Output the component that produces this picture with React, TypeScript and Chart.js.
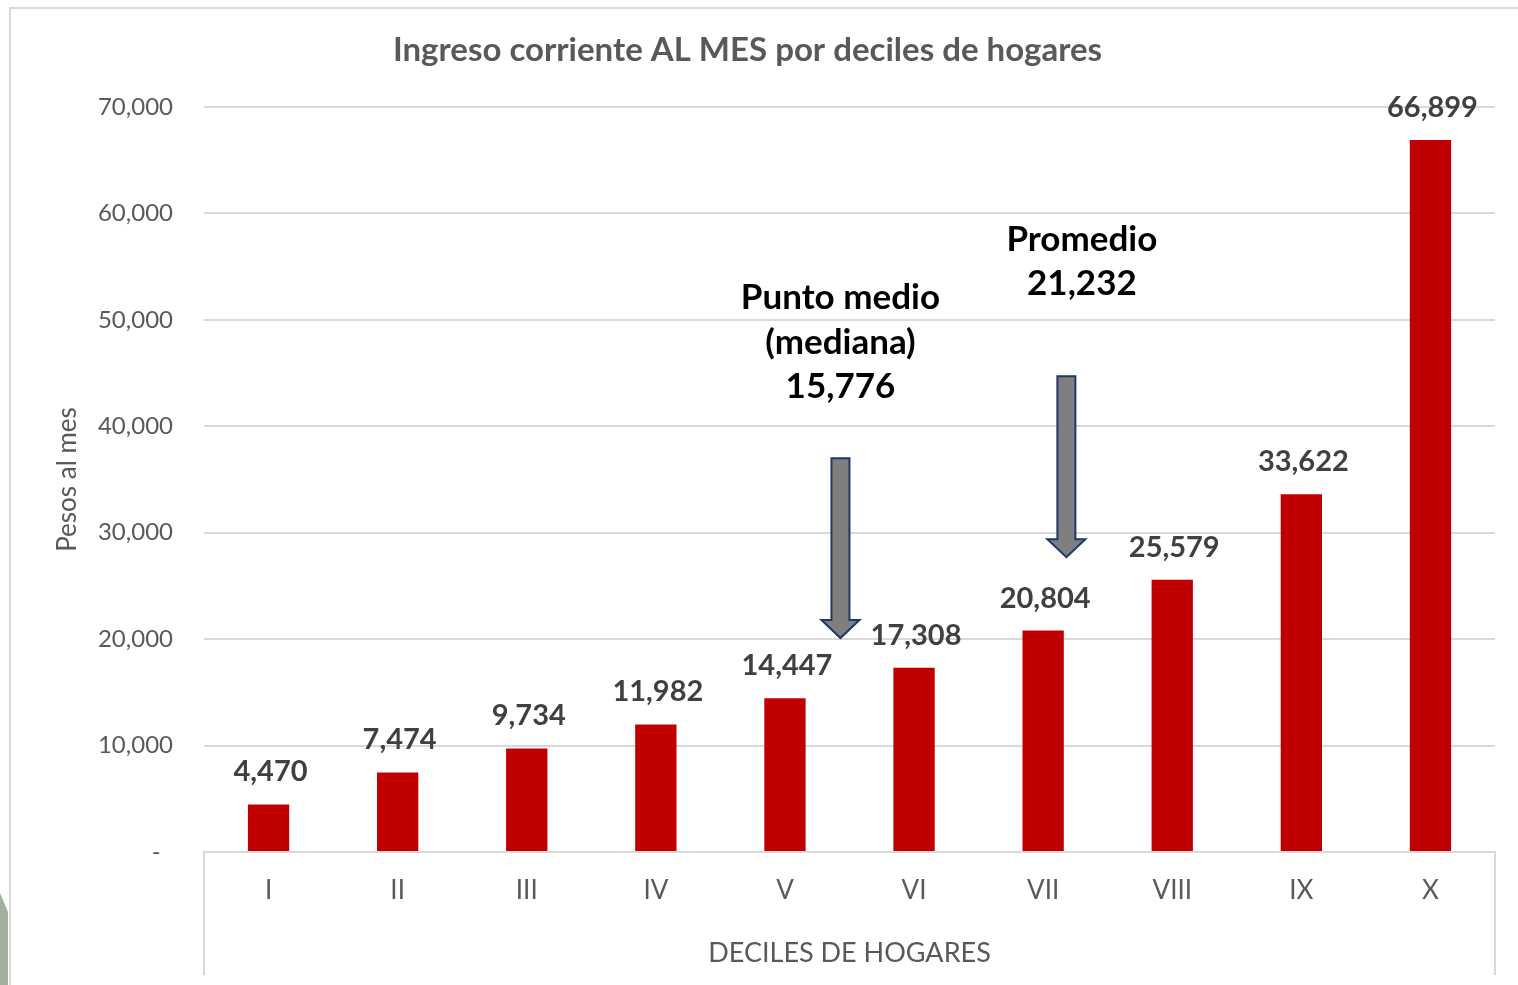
import React, { useEffect, useRef } from 'react';
import { Chart, registerables } from 'chart.js';

Chart.register(...registerables);

const categories = ['I', 'II', 'III', 'IV', 'V', 'VI', 'VII', 'VIII', 'IX', 'X'];
const ingresoMensual = [4470, 7474, 9734, 11982, 14447, 17308, 20804, 25579, 33622, 66899];
const yTickValues = [0, 10000, 20000, 30000, 40000, 50000, 60000, 70000];
const yTickLabels = ['-  ', '10,000', '20,000', '30,000', '40,000', '50,000', '60,000', '70,000'];
const chartTitle = 'Ingreso corriente AL MES por deciles de hogares';
const yTitle = 'Pesos al mes';
const xTitle = 'DECILES DE HOGARES';
const medianaLines = ['Punto medio', '(mediana)', '15,776'];
const promedioLines = ['Promedio', '21,232'];

// annotation placement in axis units (category index, value)
const medianaNote = { x: 4.43, textTop: 52050, arrowTop: 37000, arrowTip: 20100 };
const promedioNote = { x: 6.18, textX: 6.3, textTop: 57500, arrowTop: 44700, arrowTip: 27700 };

const FONT = 'Lato';
const GRAY = '#595959';
const GRID = '#d9d9d9';

function fmt(v: number) {
  return v.toLocaleString('en-US');
}

const decorPlugin = {
  id: 'decor',
  beforeDraw(chart: any) {
    const { ctx, width, height } = chart;
    ctx.save();
    ctx.fillStyle = '#ffffff';
    ctx.fillRect(0, 0, width, height);
    // outer frame
    ctx.strokeStyle = GRID;
    ctx.lineWidth = 2;
    ctx.beginPath();
    ctx.moveTo(10, height);
    ctx.lineTo(10, 8);
    ctx.lineTo(width, 8);
    ctx.stroke();
    // decorative corner shape
    ctx.fillStyle = '#a4ae9c';
    ctx.beginPath();
    ctx.moveTo(0, 893);
    ctx.lineTo(8, 912);
    ctx.lineTo(8, height);
    ctx.lineTo(0, height);
    ctx.closePath();
    ctx.fill();
    ctx.restore();
  },
  afterDatasetsDraw(chart: any) {
    const { ctx, chartArea, scales } = chart;
    const xs = scales.x;
    const ys = scales.y;
    ctx.save();
    // vertical axis-box lines below the plot
    ctx.strokeStyle = GRID;
    ctx.lineWidth = 2;
    ctx.beginPath();
    ctx.moveTo(chartArea.left, chartArea.bottom);
    ctx.lineTo(chartArea.left, chartArea.bottom + 123);
    ctx.moveTo(chartArea.right, chartArea.bottom);
    ctx.lineTo(chartArea.right, chartArea.bottom + 123);
    ctx.stroke();

    // data labels
    const meta = chart.getDatasetMeta(0);
    ctx.fillStyle = '#404040';
    ctx.font = `bold 29px ${FONT}`;
    ctx.textAlign = 'center';
    ctx.textBaseline = 'alphabetic';
    meta.data.forEach((bar: any, i: number) => {
      ctx.fillText(fmt(ingresoMensual[i]), bar.x + 2, bar.y - 23);
    });

    // arrows
    const drawArrow = (xIdx: number, topVal: number, tipVal: number) => {
      const cx = xs.getPixelForValue(xIdx);
      const top = ys.getPixelForValue(topVal);
      const tip = ys.getPixelForValue(tipVal);
      const sw = 9;
      const hw = 19;
      const hl = 18;
      ctx.beginPath();
      ctx.moveTo(cx - sw, top);
      ctx.lineTo(cx + sw, top);
      ctx.lineTo(cx + sw, tip - hl);
      ctx.lineTo(cx + hw, tip - hl);
      ctx.lineTo(cx, tip);
      ctx.lineTo(cx - hw, tip - hl);
      ctx.lineTo(cx - sw, tip - hl);
      ctx.closePath();
      ctx.fillStyle = '#7f7f7f';
      ctx.fill();
      ctx.strokeStyle = '#1f3864';
      ctx.lineWidth = 2;
      ctx.lineJoin = 'miter';
      ctx.stroke();
    };
    drawArrow(medianaNote.x, medianaNote.arrowTop, medianaNote.arrowTip);
    drawArrow(promedioNote.x, promedioNote.arrowTop, promedioNote.arrowTip);

    // annotation texts
    ctx.fillStyle = '#000000';
    ctx.font = `bold 35px ${FONT}`;
    ctx.textAlign = 'center';
    ctx.textBaseline = 'middle';
    const mx = xs.getPixelForValue(medianaNote.x);
    const my = ys.getPixelForValue(medianaNote.textTop);
    medianaLines.forEach((t, i) => ctx.fillText(t, mx, my + i * 44.5));
    const px = xs.getPixelForValue(promedioNote.textX);
    const py = ys.getPixelForValue(promedioNote.textTop);
    promedioLines.forEach((t, i) => ctx.fillText(t, px, py + i * 44));
    ctx.restore();
  },
};

export default function App() {
  const ref = useRef<HTMLCanvasElement | null>(null);
  useEffect(() => {
    if (!ref.current) return;
    Chart.defaults.font.family = FONT;
    const chart = new Chart(ref.current, {
      type: 'bar',
      data: {
        labels: categories,
        datasets: [
          {
            data: ingresoMensual,
            backgroundColor: '#c00000',
            borderWidth: 0,
            barPercentage: 0.32,
            categoryPercentage: 1,
          },
        ],
      },
      plugins: [decorPlugin],
      options: {
        responsive: false,
        animation: false,
        events: [],
        layout: { padding: { left: 0, right: 23, top: 0, bottom: 0 } },
        plugins: {
          legend: { display: false },
          tooltip: { enabled: false },
          title: {
            display: true,
            text: chartTitle,
            color: GRAY,
            font: { family: FONT, size: 33, weight: 'bold', lineHeight: 1.2 },
            padding: { top: 31, bottom: 36.4 },
          },
        },
        scales: {
          x: {
            grid: { display: false, drawTicks: false },
            border: { display: true, color: GRID, width: 2 },
            ticks: {
              color: GRAY,
              font: { family: FONT, size: 26 },
              padding: 23,
              maxRotation: 0,
            },
            title: {
              display: true,
              text: xTitle,
              color: GRAY,
              font: { family: FONT, size: 27, lineHeight: 1.2 },
              padding: { top: 0, bottom: 16 },
            },
            afterFit: (s: any) => {
              s.height = 133;
            },
          },
          y: {
            min: 0,
            max: 70000,
            afterBuildTicks: (s: any) => {
              s.ticks = yTickValues.map((v) => ({ value: v }));
            },
            grid: { color: GRID, lineWidth: 2, drawTicks: false },
            border: { display: false },
            ticks: {
              color: GRAY,
              font: { family: FONT, size: 24 },
              padding: 31,
              callback: (_v: any, i: number) => yTickLabels[i],
            },
            title: {
              display: true,
              text: yTitle,
              color: GRAY,
              font: { family: FONT, size: 26, lineHeight: 1.2 },
              padding: { top: 52, bottom: 0 },
            },
            afterFit: (s: any) => {
              s.width = 204;
            },
          },
        },
      },
    });
    return () => chart.destroy();
  }, []);
  return (
    <div style={{ position: 'absolute', left: 0, top: 0, width: 1518, height: 985, background: '#fff' }}>
      <canvas ref={ref} width={1518} height={985} style={{ display: 'block' }} />
    </div>
  );
}
